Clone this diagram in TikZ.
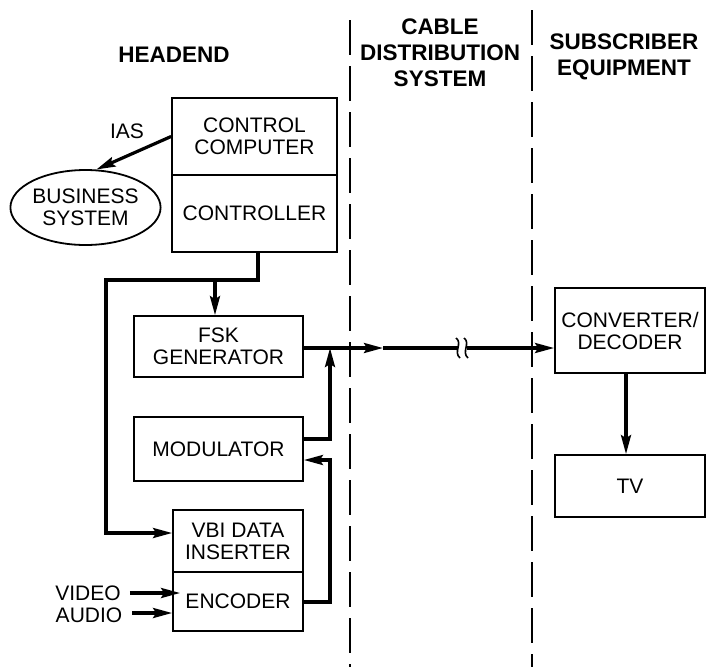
\documentclass[tikz,border=0pt]{standalone}
\usepackage{fontspec}
\setmainfont{Liberation Sans}
\usetikzlibrary{arrows.meta,shapes.geometric}

\tikzset{
  blk/.style={draw, line width=1.8pt, rectangle, inner sep=0pt, align=center,
    font=\fontsize{21}{22}\selectfont},
  oval/.style={draw, line width=1.8pt, ellipse, inner sep=0pt, align=center,
    font=\fontsize{21}{22}\selectfont},
  title/.style={align=center, font=\fontsize{22.5}{26}\selectfont\bfseries},
  lbl/.style={inner sep=1pt, font=\fontsize{21}{22}\selectfont},
  wire/.style={line width=3.2pt},
  tip/.style={-{Stealth[length=19pt,width=10pt,inset=3pt]}},
  divider/.style={line width=1.8pt, dash pattern=on 35pt off 11pt},
  squig/.style={line width=1.6pt},
}

\begin{document}
\begin{tikzpicture}[x=1pt,y=-1pt]
  \useasboundingbox (0,0) rectangle (719,667);
  \fill[white] (0,0) rectangle (719,667);

  % section dividers
  \coordinate (d1t) at (350,20);  \coordinate (d1b) at (350,667);
  \coordinate (d2t) at (532,10);  \coordinate (d2b) at (532,667);
  \draw[divider] (d1t) -- (d1b);
  \draw[divider] (d2t) -- (d2b);

  % section titles
  \node[title] (thead) at (174,55) {HEADEND};
  \node[title] (tcable) at (440,52.5) {CABLE\\DISTRIBUTION\\SYSTEM};
  \node[title] (tsub) at (624,56.5) {SUBSCRIBER\\EQUIPMENT};

  % headend blocks
  \node[blk, minimum width=165, minimum height=77] (cc)  at (254.5,136.5) {CONTROL\\COMPUTER};
  \node[blk, minimum width=165, minimum height=77] (ctl) at (254.5,213.5) {CONTROLLER};
  \node[oval, minimum width=145, minimum height=75] (bus) at (85.5,207.5) {BUSINESS\\SYSTEM};
  \node[blk, minimum width=169, minimum height=61] (fsk) at (218.5,346.5) {FSK\\GENERATOR};
  \node[blk, minimum width=169, minimum height=64] (mod) at (218.5,449) {MODULATOR};
  \node[blk, minimum width=130, minimum height=62] (vbi) at (238,541) {VBI DATA\\INSERTER};
  \node[blk, minimum width=130, minimum height=59] (enc) at (238,601.5) {ENCODER};

  % subscriber blocks
  \node[blk, minimum width=150, minimum height=85] (conv) at (630,330.5) {CONVERTER/\\DECODER};
  \node[blk, minimum width=150, minimum height=62] (tv) at (630,486) {TV};

  % labels
  \node[lbl] (ias) at (127,131) {IAS};
  \node[lbl] (vid) at (88,593) {VIDEO};
  \node[lbl] (aud) at (89,615) {AUDIO};

  % control computer to business system
  \draw[wire,tip] (cc.west) -- (bus.74);

  % controller distribution
  \coordinate (jB) at (106,280);
  \coordinate (jC) at (106,533);
  \coordinate (jD) at (215,280);
  \draw[wire,tip] ([xshift=3.5pt]ctl.south) |- (jB) -- (jC) -- (jC -| vbi.west);
  \draw[wire,tip] (jD) -- (jD |- fsk.north);

  % modulator output into the cable feed
  \coordinate (mOut) at (303,439);
  \coordinate (mUp)  at (330,439);
  \coordinate (mTop) at (330,348);
  \draw[wire,tip] (mOut) -- (mUp) -- (mTop);

  % encoder output into the modulator
  \coordinate (eOut) at (303,602);
  \coordinate (eUp)  at (330,602);
  \coordinate (eTop) at (330,460);
  \draw[wire,tip] (eOut) -- (eUp) -- (eTop) -- (eTop -| mod.east);

  % cable feed with break mark
  \coordinate (mA)   at (383,348);
  \coordinate (brkL) at (458,348);
  \coordinate (brkR) at (467,348);
  \draw[wire,tip] (fsk.east |- mA) -- (mA);
  \draw[wire] (mA) -- (brkL);
  \draw[wire,tip] (brkR) -- (brkR -| conv.west);
  \draw[squig] (456,338) .. controls (463,343) and (453,352) .. (460,358);
  \draw[squig] (464,338) .. controls (471,343) and (461,352) .. (468,358);

  % converter to TV
  \draw[wire,tip] ([xshift=-4pt]conv.south) -- ([xshift=-4pt]tv.north);

  % video and audio inputs
  \draw[wire,tip] ([xshift=8pt]vid.east) -- ([xshift=8pt]vid.east -| enc.west);
  \draw[wire,tip] ([xshift=9pt]aud.east |- 0,613) -- (enc.west |- 0,613);
\end{tikzpicture}
\end{document}
